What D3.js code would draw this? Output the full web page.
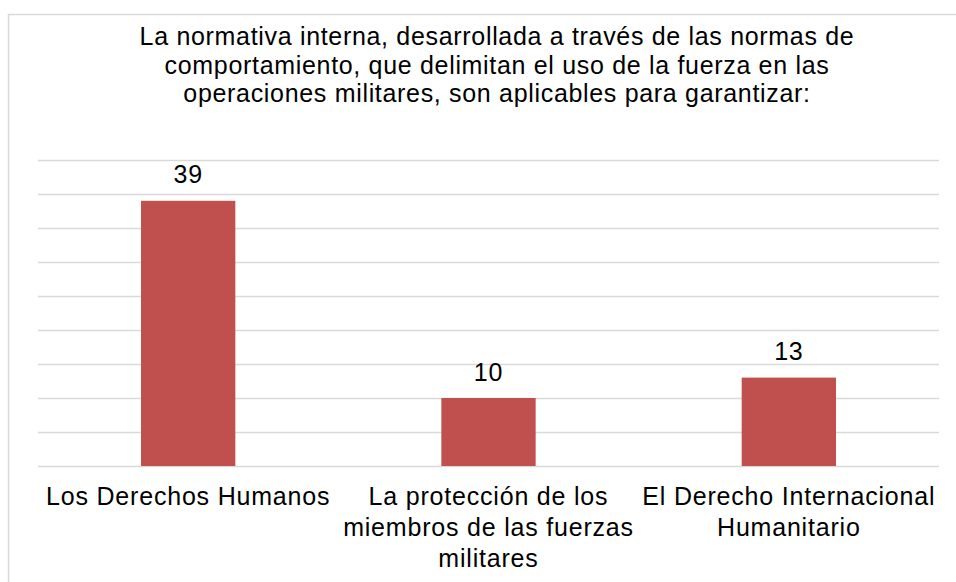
<!DOCTYPE html>
<html lang="es">
<head>
  <meta charset="UTF-8">
  <title>Normas de comportamiento</title>
  <style>
    body {
      margin: 0;
      padding: 0;
      background-color: #ffffff;
    }
    svg {
      display: block;
      font-family: "Liberation Sans", Arial, sans-serif;
    }
  </style>
</head>
<body>
<div id="chart"></div>
<script src="https://d3js.org/d3.v7.min.js"></script>
<script>
  const titleLines = [
    "La normativa interna, desarrollada a través de las normas de",
    "comportamiento, que delimitan el uso de la fuerza en las",
    "operaciones militares, son aplicables para garantizar:"
  ];
  const categories = [
    ["Los Derechos Humanos"],
    ["La protección de los", "miembros de las fuerzas", "militares"],
    ["El Derecho Internacional", "Humanitario"]
  ];
  const values = [39, 10, 13];
  const yTicks = [0, 5, 10, 15, 20, 25, 30, 35, 40, 45];

  const width = 956;
  const height = 582;
  const margin = { top: 160, right: 17, bottom: 116, left: 38 };

  const svg = d3.select("#chart").append("svg")
          .attr("width", width)
          .attr("height", height);

  // chart frame (runs off the right and bottom edges)
  svg.append("rect")
          .attr("x", 8.5)
          .attr("y", 14.5)
          .attr("width", 1000)
          .attr("height", 700)
          .attr("fill", "none")
          .attr("stroke", "#d9d9d9")
          .attr("stroke-width", 1.5);

  const x = d3.scaleBand()
          .domain(d3.range(categories.length))
          .range([margin.left, width - margin.right])
          .paddingInner(0.686)
          .paddingOuter(0.343);
  const band = d3.scaleBand()
          .domain(d3.range(categories.length))
          .range([margin.left, width - margin.right]);

  const y = d3.scaleLinear()
          .domain([0, 45])
          .range([height - margin.bottom, margin.top]);

  // gridlines
  svg.append("g")
          .selectAll("line")
          .data(yTicks)
          .join("line")
          .attr("x1", margin.left)
          .attr("x2", width - margin.right)
          .attr("y1", d => Math.round(y(d)) + 0.5)
          .attr("y2", d => Math.round(y(d)) + 0.5)
          .attr("stroke", "#d9d9d9")
          .attr("stroke-width", 1.5);

  // bars
  svg.append("g")
          .selectAll("rect")
          .data(values)
          .join("rect")
          .attr("x", (d, i) => x(i))
          .attr("y", d => y(d))
          .attr("width", x.bandwidth())
          .attr("height", d => y(0) - y(d))
          .attr("fill", "#c0504d");

  // value labels
  svg.append("g")
          .selectAll("text")
          .data(values)
          .join("text")
          .attr("x", (d, i) => band(i) + band.bandwidth() / 2)
          .attr("y", d => y(d) - 17.5)
          .attr("text-anchor", "middle")
          .attr("font-size", 25)
          .attr("letter-spacing", 0.75)
          .attr("fill", "#000")
          .text(d => d);

  // category labels
  const cat = svg.append("g")
          .selectAll("text")
          .data(categories)
          .join("text")
          .attr("x", (d, i) => band(i) + band.bandwidth() / 2)
          .attr("y", 505)
          .attr("text-anchor", "middle")
          .attr("font-size", 25)
          .attr("letter-spacing", 0.8)
          .attr("fill", "#000");
  cat.selectAll("tspan")
          .data(d => d)
          .join("tspan")
          .attr("x", function () { return this.parentNode.getAttribute("x"); })
          .attr("dy", (d, i) => i === 0 ? 0 : 31)
          .text(d => d);

  // title
  svg.append("text")
          .attr("x", 497)
          .attr("y", 45)
          .attr("text-anchor", "middle")
          .attr("font-size", 25)
          .attr("letter-spacing", 0.68)
          .attr("fill", "#000")
          .selectAll("tspan")
          .data(titleLines)
          .join("tspan")
          .attr("x", 497)
          .attr("dy", (d, i) => i === 0 ? 0 : 28.5)
          .text(d => d);
</script>
</body>
</html>
